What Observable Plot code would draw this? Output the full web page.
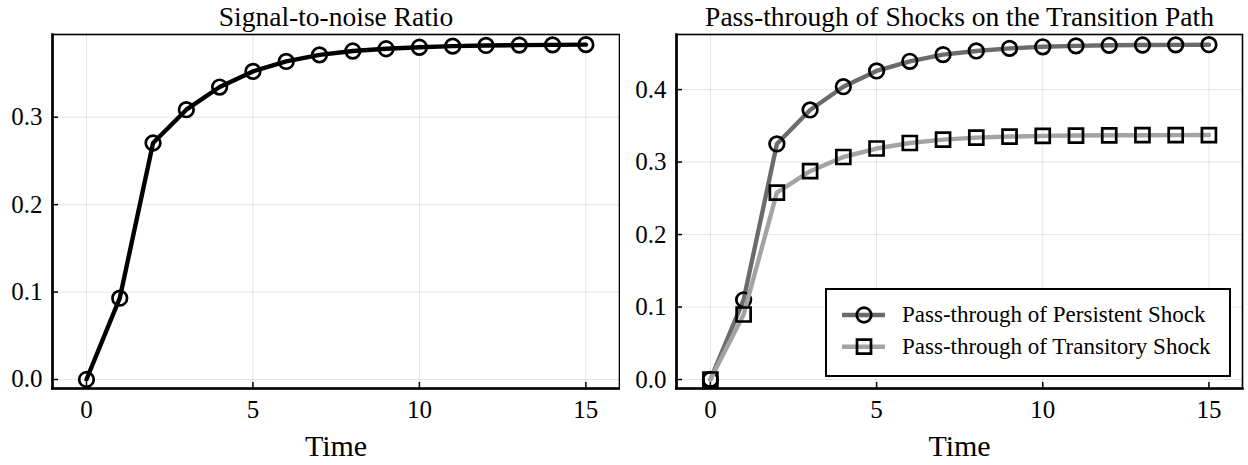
<!DOCTYPE html>
<html>
<head>
<meta charset="utf-8">
<script src="https://cdn.jsdelivr.net/npm/d3@7"></script>
<script src="https://cdn.jsdelivr.net/npm/@observablehq/plot@0.6"></script>
<style>
  html, body { margin: 0; padding: 0; background: white; }
  #wrap { position: relative; width: 1248px; height: 465px; overflow: hidden; font-family: "Liberation Serif", serif; }
  .panel { position: absolute; top: 0; }
  #legend { position: absolute; left: 825px; top: 288px; width: 402px; height: 85px;
            border: 2.5px solid black; background: white; }
  #legend svg { position: absolute; left: 0; top: 0; }
</style>
</head>
<body>
<div id="wrap">
  <div class="panel" id="p1" style="left:0px"></div>
  <div class="panel" id="p2" style="left:620px"></div>
  <div id="legend"></div>
</div>
<script>
// ---- data ----
const time = [0, 1, 2, 3, 4, 5, 6, 7, 8, 9, 10, 11, 12, 13, 14, 15];
const snr = [0, 0.093, 0.2705, 0.3086, 0.3345, 0.3524, 0.3638, 0.3713, 0.3757, 0.3783, 0.3800, 0.3813, 0.3821, 0.3825, 0.3827, 0.3830];
const persistent = [0, 0.110, 0.325, 0.3719, 0.4040, 0.4257, 0.4390, 0.4483, 0.4533, 0.4568, 0.4590, 0.4603, 0.4611, 0.4615, 0.4617, 0.4619];
const transitory = [0, 0.0897, 0.2579, 0.2874, 0.3070, 0.3187, 0.3263, 0.3310, 0.3337, 0.3352, 0.3361, 0.3366, 0.3369, 0.3371, 0.3372, 0.3373];
const xTicks = [0, 5, 10, 15];
const yTicksLeft = [0, 0.1, 0.2, 0.3];
const yTicksRight = [0, 0.1, 0.2, 0.3, 0.4];
const titleLeft = "Signal-to-noise Ratio";
const titleRight = "Pass-through of Shocks on the Transition Path";
const xLabel = "Time";
const seriesNames = ["Pass-through of Persistent Shock", "Pass-through of Transitory Shock"];

// ---- styles ----
const FONT = "Liberation Serif";
const H = 465, MT = 34, MB = 77;
const colPersistent = "#6b6b6b";
const colTransitory = "#a3a3a3";

function panel({width, ml, mr, yDomain, yTicks, title, series}) {
  const frameW = width - ml - mr;
  const frameH = H - MT - MB;
  const marks = [
    Plot.gridX(xTicks, {stroke: "#000", strokeOpacity: 0.1, strokeWidth: 1}),
    Plot.gridY(yTicks, {stroke: "#000", strokeOpacity: 0.1, strokeWidth: 1}),
  ];
  for (const s of series) {
    const rows = time.map((t, i) => ({t, v: s.values[i]}));
    marks.push(Plot.line(rows, {x: "t", y: "v", stroke: s.color, strokeWidth: 4.4, strokeLinejoin: "round", strokeLinecap: "round"}));
    marks.push(Plot.dot(rows, {x: "t", y: "v", symbol: s.symbol, r: s.r, stroke: "black", strokeWidth: 2.7, fill: "none"}));
  }
  marks.push(
    Plot.tickY(yTicks, {y: d => d, stroke: "black", strokeWidth: 1.5, insetRight: frameW - 6}),
    Plot.tickX(xTicks, {x: d => d, stroke: "black", strokeWidth: 1.5, insetTop: frameH - 6}),
    Plot.frame({stroke: "black", strokeWidth: 1.6}),
    Plot.frame({anchor: "left", stroke: "black", strokeWidth: 2.6}),
    Plot.frame({anchor: "bottom", stroke: "black", strokeWidth: 2.6}),
    Plot.axisY(yTicks, {tickSize: 0, tickPadding: 10, fontSize: 25, tickFormat: d3.format(".1f"), label: null}),
    Plot.axisX(xTicks, {tickSize: 0, tickPadding: 12, fontSize: 25, tickFormat: d3.format("d"), label: null}),
    Plot.text([xLabel], {frameAnchor: "bottom", dy: 58, fontSize: 30, lineAnchor: "middle", fill: "black"}),
    Plot.text([title], {frameAnchor: "top", dy: -17, fontSize: 27.5, lineAnchor: "middle", fill: "black"})
  );
  return Plot.plot({
    width, height: H,
    marginLeft: ml, marginRight: mr, marginTop: MT, marginBottom: MB,
    style: {fontFamily: FONT, fontSize: "25px", color: "black", background: "white", overflow: "visible"},
    x: {domain: [-1.02, 16.01], axis: null},
    y: {domain: yDomain, axis: null},
    marks
  });
}

document.getElementById("p1").appendChild(panel({
  width: 620, ml: 52, mr: 1,
  yDomain: [-0.0103, 0.3946], yTicks: yTicksLeft, title: titleLeft,
  series: [{values: snr, color: "black", symbol: "circle", r: 7.3}]
}));

document.getElementById("p2").appendChild(panel({
  width: 628, ml: 56, mr: 6,
  yDomain: [-0.0124, 0.476], yTicks: yTicksRight, title: titleRight,
  series: [
    {values: persistent, color: colPersistent, symbol: "circle", r: 7.3},
    {values: transitory, color: colTransitory, symbol: "square", r: 7.9}
  ]
}));

// ---- legend ----
const lg = d3.select("#legend").append("svg").attr("width", 402).attr("height", 85)
  .style("font-family", FONT);
const entries = [
  {name: seriesNames[0], color: colPersistent, symbol: d3.symbolCircle, size: Math.PI * 7.3 * 7.3},
  {name: seriesNames[1], color: colTransitory, symbol: d3.symbolSquare, size: Math.PI * 7.9 * 7.9}
];
entries.forEach((e, i) => {
  const cy = 25 + i * 31.7;
  lg.append("line").attr("x1", 15).attr("x2", 58).attr("y1", cy).attr("y2", cy)
    .attr("stroke", e.color).attr("stroke-width", 4.4);
  lg.append("path").attr("d", d3.symbol(e.symbol, e.size)()).attr("transform", `translate(37,${cy})`)
    .attr("fill", "none").attr("stroke", "black").attr("stroke-width", 2.7);
  lg.append("text").attr("x", 75).attr("y", cy).attr("dy", "0.32em").attr("font-size", 23)
    .attr("fill", "black").text(e.name);
});
</script>
</body>
</html>
